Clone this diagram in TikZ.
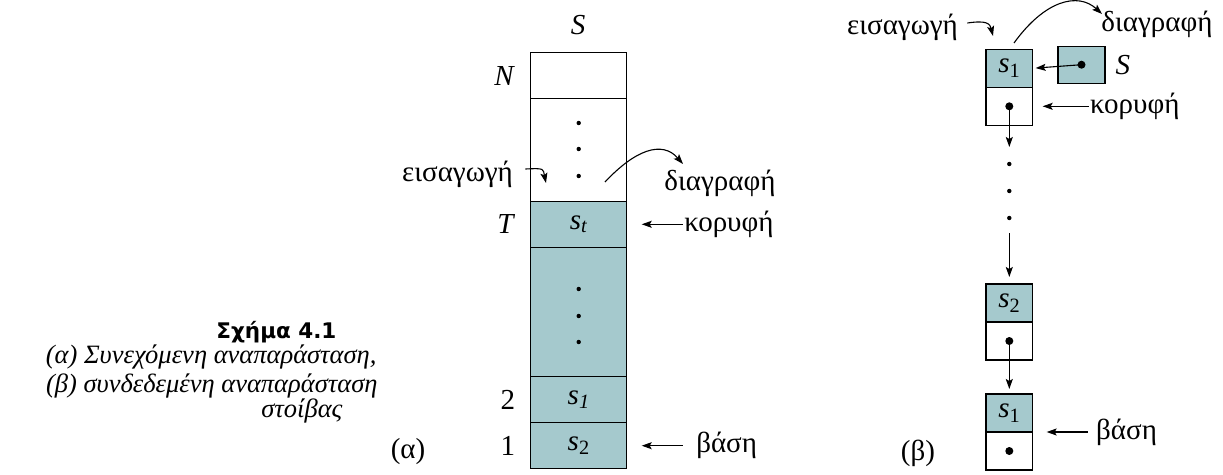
\documentclass[tikz,border=0pt]{standalone}
\usepackage{fontspec}
\setmainfont{Liberation Serif}
\newfontfamily\capsans{DejaVu Sans}
\usepackage{tikz}
\usetikzlibrary{arrows.meta,positioning}
\definecolor{stackteal}{RGB}{165,201,205}

\begin{document}
\begin{tikzpicture}[
    x=1pt, y=-1pt,
    line width=1.1pt,
    cell/.style={rectangle, draw=black, inner sep=0pt, outer sep=0pt, minimum width=96pt, minimum height=46pt, font=\fontsize{29}{33}\selectfont},
    listcell/.style={rectangle, draw=black, inner sep=0pt, outer sep=0pt, minimum width=46.7pt, minimum height=38pt, font=\fontsize{29}{33}\selectfont},
    lbl/.style={inner sep=1pt, font=\fontsize{29}{33}\selectfont},
    caption/.style={inner sep=0pt, font=\fontsize{26.5}{30}\selectfont\itshape},
    arrow/.style={-{Stealth[length=10pt, width=7pt, inset=2pt]}, line width=1.1pt}
]
\useasboundingbox (0,0) rectangle (1223,474);

% (a) contiguous stack
\node[cell] (cN) at (578.7,75.7) {};
\node[cell, minimum height=102.6pt, below=0pt of cN] (cgap) {};
\node[cell, fill=stackteal, below=0pt of cgap] (ct) {\textit{s}\textsubscript{\textit{t}}};
\node[cell, fill=stackteal, minimum height=129.4pt, below=0pt of ct] (cmid) {};
\node[cell, fill=stackteal, below=0pt of cmid] (c2) {\textit{s}\textsubscript{\textit{1}}};
\node[cell, fill=stackteal, below=0pt of c2] (c1) {\textit{s}\textsubscript{2}};

\foreach \y in {123,149,176} \fill (578.7,\y) circle (2.2pt);
\foreach \y in {289,316,342} \fill (578.7,\y) circle (2.2pt);

\node[lbl] (lS) at (578,25) {\textit{S}};
\node[lbl, left=14pt of cN] (lN) {\textit{N}};
\node[lbl, left=14pt of ct] (lT) {\textit{T}};
\node[lbl, left=14pt of c2] (l2) {2};
\node[lbl, left=14pt of c1] (l1) {1};
\node[lbl] (la) at (408,452) {(α)};

\node[lbl] (insA) at (457.5,174) {εισαγωγή};
\coordinate (insAend) at (546,183);
\draw[arrow] ([xshift=11pt,yshift=5pt]insA.east) .. controls +(20,-1) and +(-3,-14) .. (insAend);

\node[lbl] (delA) at (720,183) {διαγραφή};
\coordinate (delAstart) at (605,182);
\coordinate (delAend) at (683,164);
\draw[arrow] (delAstart) .. controls (635,150) and (662,140) .. (delAend);

\node[lbl, anchor=west] (topA) at ([xshift=56pt]ct.east) {κορυφή};
\draw[arrow] (topA.west) -- ([xshift=15pt]ct.east);

\node[lbl, anchor=west] (baseA) at ([xshift=68pt]c1.east) {βάση};
\draw[arrow] ([xshift=-12pt]baseA.west) -- ([xshift=15pt]c1.east);

% (b) linked stack
\node[listcell, fill=stackteal] (d1) at (1009.3,68.3) {\textit{s}\textsubscript{1}};
\node[listcell, below=0pt of d1] (p1) {};
\node[listcell, fill=stackteal] (d2) at (1009.3,303) {\textit{s}\textsubscript{2}};
\node[listcell, below=0pt of d2] (p2) {};
\node[listcell, fill=stackteal] (d3) at (1009.3,413) {\textit{s}\textsubscript{1}};
\node[listcell, below=0pt of d3] (p3) {};
\node[listcell, fill=stackteal, minimum width=47pt, minimum height=37pt] (sbox) at (1081.5,64.7) {};
\node[lbl, right=9pt of sbox] (lSb) {\textit{S}};

\foreach \n in {p1,p2,p3,sbox} \fill (\n.center) circle (4pt);
\foreach \y in {164,191,218} \fill (1009.3,\y) circle (2.2pt);

\coordinate (gapTop) at (1009.3,147);
\coordinate (gapBot) at (1009.3,233);
\draw[arrow, shorten >=3pt] (sbox.center) -- (d1.east);
\draw[arrow] (p1.center) -- (gapTop);
\draw[arrow, shorten >=7pt] (gapBot) -- (d2.north);
\draw[arrow, shorten >=5pt] (p2.center) -- (d3.north);

\node[lbl] (insB) at (902.5,27) {εισαγωγή};
\coordinate (insBend) at (993,36);
\draw[arrow] ([xshift=8pt,yshift=4pt]insB.east) .. controls +(20,-3) and +(-3,-12) .. (insBend);

\node[lbl] (delB) at (1157,24) {διαγραφή};
\coordinate (delBstart) at (1014,43);
\coordinate (delBend) at (1102,14);
\draw[arrow] (delBstart) .. controls (1045,0) and (1078,-8) .. (delBend);

\node[lbl, anchor=west] (topB) at ([xshift=56pt]p1.east) {κορυφή};
\draw[arrow] (topB.west) -- ([xshift=10pt]p1.east);

\node[lbl, anchor=west] (baseB) at ([xshift=62pt]d3.south east) {βάση};
\draw[arrow] ([xshift=-7pt]baseB.west) -- ([xshift=14pt]d3.south east);

\node[lbl] (lb) at (918,453) {(β)};

% caption
\node[inner sep=0pt, anchor=base east, font=\capsans\bfseries\fontsize{21.5}{25}\selectfont] (capT) at (337,338) {Σχήμα 4.1};
\node[caption, anchor=base east] (cap1) at (377,363) {(α) Συνεχόμενη αναπαράσταση,};
\node[caption, anchor=base east] (cap2) at (378,392) {(β) συνδεδεμένη αναπαράσταση};
\node[caption, anchor=base east] (cap3) at (343,417) {στοίβας};
\end{tikzpicture}
\end{document}
